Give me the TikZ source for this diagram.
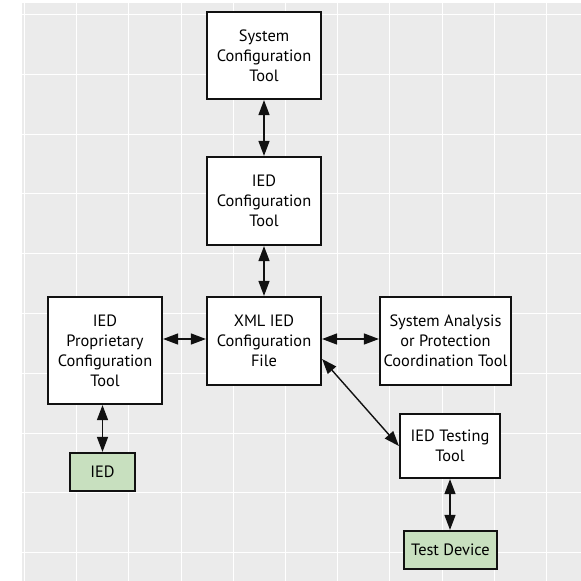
\documentclass[tikz,border=0pt]{standalone}
\usepackage{fontspec}
\setmainfont{PT Sans}
\usetikzlibrary{arrows.meta}
\definecolor{panelgray}{RGB}{235,235,235}
\definecolor{boxline}{RGB}{17,17,17}
\definecolor{devgreen}{RGB}{200,224,191}
\tikzset{
  box/.style={draw=boxline, line width=2.2pt, fill=white, align=center,
    inner sep=0pt, font=\fontsize{16.4}{20}\selectfont},
  greenbox/.style={box, fill=devgreen},
  link/.style={line width=1.4pt, draw=boxline,
    {Triangle[length=15pt,width=11pt]}-{Triangle[length=15pt,width=11pt]}},
  gridline/.style={white, line width=1pt}
}
\begin{document}
\begin{tikzpicture}[x=1pt,y=-1pt]
\useasboundingbox (0,0) rectangle (581,581);
\fill[panelgray] (22,3) rectangle (581,581);
\foreach \gx in {24.5,76.7,128.9,181.1,233.3,285.5,337.7,389.9,442.1,494.3,546.5}
  \draw[gridline] (\gx,3) -- (\gx,581);
\foreach \gy in {14,74,134,193.5,253,313,373,433,492.5,552}
  \draw[gridline] (22,\gy) -- (581,\gy);

\node[box, minimum width=114pt, minimum height=87pt] (sct) at (264,55.5) {System\\Configuration\\Tool};
\node[box, minimum width=114pt, minimum height=88pt] (ict) at (264,201) {IED\\Configuration\\Tool};
\node[box, minimum width=114pt, minimum height=88pt] (xml) at (264,341) {XML IED\\Configuration\\File};
\node[box, minimum width=114pt, minimum height=107pt] (prop) at (105,350.5) {IED\\Proprietary\\Configuration\\Tool};
\node[box, minimum width=131pt, minimum height=88pt] (sys) at (445.5,341) {System Analysis\\or Protection\\Coordination Tool};
\node[box, minimum width=100pt, minimum height=64pt] (test) at (450,446) {IED Testing\\Tool};
\node[greenbox, minimum width=65pt, minimum height=38pt] (ied) at (102.5,472) {IED};
\node[greenbox, minimum width=93pt, minimum height=38pt] (dev) at (450.5,550) {Test Device};

\draw[link] (sct.south) -- (ict.north);
\draw[link] (ict.south) -- (xml.north);
\draw[link] ([yshift=2pt]prop.east |- xml.west) -- ([yshift=2pt]xml.west);
\draw[link] ([yshift=2pt]xml.east) -- ([yshift=2pt]sys.west);
\draw[link] ([yshift=-18pt]xml.east) -- (test.west);
\draw[link] (ied.north |- prop.south) -- (ied.north);
\draw[link] (test.south) -- (test.south |- dev.north);
\end{tikzpicture}
\end{document}
